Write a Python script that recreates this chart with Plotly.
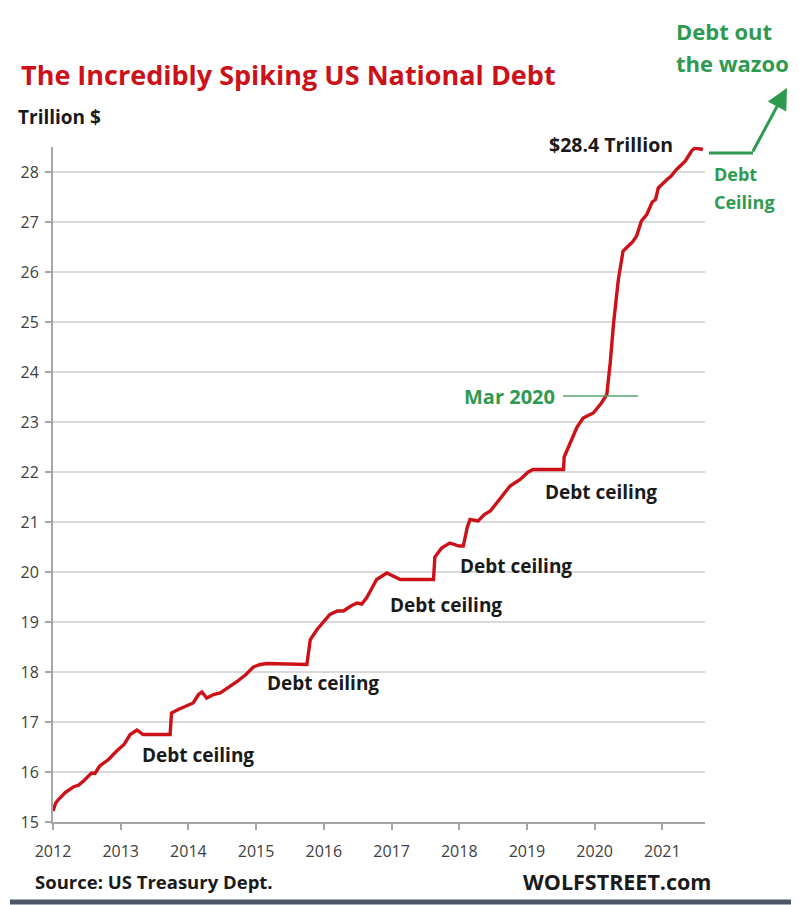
import plotly.graph_objects as go

# ---- data (decimal year, trillion $) ----
years = [2012.00, 2012.04, 2012.08, 2012.18, 2012.30, 2012.38, 2012.45, 2012.57, 2012.62, 2012.69,
         2012.82, 2012.94, 2013.05, 2013.14, 2013.24, 2013.33, 2013.73, 2013.75, 2013.85, 2013.97,
         2014.07, 2014.15, 2014.20, 2014.27, 2014.37, 2014.47, 2014.60, 2014.71, 2014.85, 2014.96,
         2015.06, 2015.16, 2015.75, 2015.80, 2015.90, 2016.00, 2016.09, 2016.20, 2016.29, 2016.40,
         2016.49, 2016.56, 2016.63, 2016.70, 2016.78, 2016.93, 2017.05, 2017.13, 2017.62, 2017.64,
         2017.74, 2017.86, 2018.00, 2018.06, 2018.12, 2018.16, 2018.28, 2018.37, 2018.46, 2018.60,
         2018.75, 2018.90, 2019.02, 2019.09, 2019.54, 2019.55, 2019.65, 2019.74, 2019.83, 2019.98,
         2020.10, 2020.18, 2020.23, 2020.28, 2020.35, 2020.42, 2020.52, 2020.56, 2020.62, 2020.69,
         2020.77, 2020.85, 2020.90, 2020.94, 2021.07, 2021.13, 2021.21, 2021.34, 2021.43, 2021.48,
         2021.60]
debt = [15.22, 15.38, 15.45, 15.59, 15.70, 15.74, 15.82, 15.98, 15.97, 16.12,
        16.25, 16.42, 16.55, 16.75, 16.84, 16.75, 16.75, 17.18, 17.25, 17.32,
        17.38, 17.55, 17.60, 17.48, 17.55, 17.58, 17.69, 17.80, 17.95, 18.10,
        18.15, 18.17, 18.15, 18.65, 18.85, 19.00, 19.15, 19.22, 19.22, 19.32,
        19.38, 19.36, 19.48, 19.65, 19.85, 19.98, 19.90, 19.85, 19.85, 20.30,
        20.48, 20.58, 20.52, 20.52, 20.90, 21.05, 21.02, 21.15, 21.22, 21.45,
        21.72, 21.85, 22.00, 22.05, 22.05, 22.30, 22.60, 22.90, 23.08, 23.18,
        23.38, 23.55, 24.18, 24.98, 25.85, 26.42, 26.55, 26.60, 26.72, 27.02,
        27.15, 27.40, 27.45, 27.68, 27.85, 27.92, 28.05, 28.22, 28.42, 28.48,
        28.45]

x_ticks = [2012, 2013, 2014, 2015, 2016, 2017, 2018, 2019, 2020, 2021]
y_ticks = list(range(15, 29))

ceiling_labels = ["Debt ceiling"] * 5
ceiling_x = [2014.14, 2015.99, 2017.80, 2018.84, 2020.09]
ceiling_y = [16.35, 17.79, 19.35, 20.13, 21.61]

# the page body has an 8px margin, so the figure is 8px smaller than the window
OFF = 8
W, H = 799 - OFF, 905 - OFF
L, R, T, B = 53 - OFF, W - (705 - OFF), 147 - OFF, H - (822 - OFF)
PW, PH = W - L - R, H - T - B


def px(xpage):
    return (xpage - OFF - L) / PW


def py(ypage):
    return (H - B - (ypage - OFF)) / PH


FONT = "Open Sans"
GREEN = "#2e9a50"
RED = "#cc1118"
DARK = "#1a1a1a"

fig = go.Figure()
fig.add_trace(go.Scatter(x=years, y=debt, mode="lines",
                         line=dict(color=RED, width=3.4), hoverinfo="skip"))

fig.update_layout(
    width=W, height=H,
    margin=dict(l=L, r=R, t=T, b=B),
    paper_bgcolor="white", plot_bgcolor="white",
    showlegend=False,
    font=dict(family=FONT, color="#333333"),
    xaxis=dict(range=[2012, 2021.63], tickvals=x_ticks, ticktext=[str(v) for v in x_ticks],
               showgrid=False, zeroline=False, showline=True, linecolor="#a6a6a6", linewidth=2,
               ticks="outside", ticklen=6, tickcolor="#a6a6a6", tickwidth=1.5,
               ticklabelstandoff=8,
               tickfont=dict(size=16, color="#404040", family=FONT)),
    yaxis=dict(range=[15, 28.5], tickvals=y_ticks, showgrid=True, gridcolor="#d9d9d9", gridwidth=1.5,
               zeroline=False, showline=True, linecolor="#a6a6a6", linewidth=2,
               ticks="outside", ticklen=6, tickcolor="#a6a6a6", tickwidth=1.5,
               ticklabelstandoff=3,
               tickfont=dict(size=16, color="#404040", family=FONT)),
)


def txt(text, xp, yp, size, color, anchor="left"):
    return dict(text=text, xref="paper", yref="paper", x=px(xp), y=py(yp),
                xanchor=anchor, yanchor="middle", showarrow=False,
                font=dict(size=size, color=color, family=FONT, weight="bold"))


ann = [
    txt("The Incredibly Spiking US National Debt", 19, 74, 27, RED),
    txt("Trillion $", 16, 117, 19, DARK),
    txt("Mar 2020", 557, 396, 20, GREEN, "right"),
    txt("$28.4 Trillion", 675, 145, 19.5, DARK, "right"),
    txt("Debt", 712, 174, 18, GREEN),
    txt("Ceiling", 712, 202, 18, GREEN),
    txt("Debt out", 674, 31, 22, GREEN),
    txt("the wazoo", 674, 63, 22, GREEN),
    txt("Source: US Treasury Dept.", 33, 882, 18.5, DARK),
    txt("WOLFSTREET.com", 713, 882, 21.5, DARK, "right"),
]
for t, xv, yv in zip(ceiling_labels, ceiling_x, ceiling_y):
    ann.append(dict(text=t, x=xv, y=yv, xref="x", yref="y", showarrow=False,
                    font=dict(size=19, color=DARK, family=FONT, weight="bold")))
# arrow
ann.append(dict(text="", xref="paper", yref="paper", x=px(787), y=py(88),
                axref="pixel", ayref="pixel", ax=-35, ay=65, showarrow=True,
                arrowhead=2, arrowsize=1.4, arrowwidth=3, arrowcolor=GREEN))
fig.update_layout(annotations=ann)

fig.add_shape(type="line", xref="paper", yref="paper", x0=px(709), x1=px(753), y0=py(153), y1=py(153),
              line=dict(color=GREEN, width=3))
fig.add_shape(type="line", xref="paper", yref="paper", x0=px(563), x1=px(638), y0=py(396), y1=py(396),
              line=dict(color="#5aa070", width=1.5))
fig.add_shape(type="line", xref="paper", yref="paper", x0=px(10), x1=px(799), y0=py(902), y1=py(902),
              line=dict(color="#4d5566", width=5))

fig.write_html("out.html")
